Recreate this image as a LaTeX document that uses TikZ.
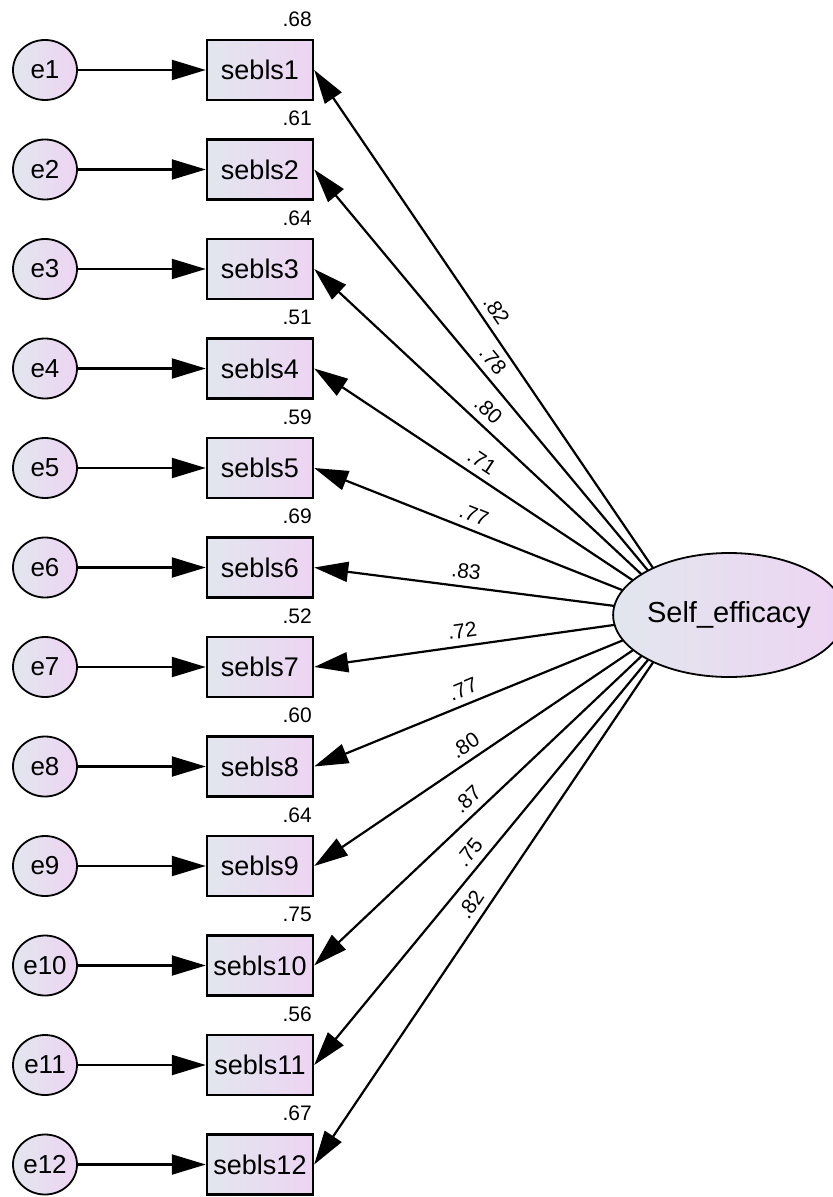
\documentclass[tikz,border=0pt]{standalone}
\usepackage{fontspec}
\setmainfont{Liberation Sans}
\usetikzlibrary{shapes.geometric,arrows.meta,intersections}
\definecolor{Camosgrey}{HTML}{E2E6EE}
\definecolor{Camoslilac}{HTML}{EDD4F2}
\tikzset{
	obsbox/.style={draw,line width=1.2pt,left color=Camosgrey,right color=Camoslilac,minimum width=53pt,minimum height=30pt,inner sep=0pt,font=\fontsize{13.5}{16}\selectfont},
	errnode/.style={draw,ellipse,line width=0.9pt,left color=Camosgrey,right color=Camoslilac,minimum width=32pt,minimum height=30pt,inner sep=0pt,font=\fontsize{13}{15}\selectfont},
	latnode/.style={draw,ellipse,line width=0.9pt,left color=Camosgrey,right color=Camoslilac,minimum width=104pt,minimum height=62pt,inner sep=0pt,font=\fontsize{14.5}{17}\selectfont},
	amosarrow/.style={line width=1.1pt,-{Triangle[length=17pt,width=10pt]}},
	loadlabel/.style={sloped,above,pos=0.5,inner sep=3.5pt,font=\fontsize{10.5}{12}\selectfont},
	rsqlabel/.style={anchor=south east,inner sep=0pt,yshift=6pt,xshift=-1pt,font=\fontsize{10.5}{12}\selectfont}
}
\begin{document}
\begin{tikzpicture}[x=0.5pt,y=-0.5pt]
	\useasboundingbox (0,0) rectangle (832,1197);
	\node[latnode,name path=Fborder] (F) at (729,615) {Self\_efficacy};
	\coordinate (Faim) at (685,615);
	\foreach \i/\r/\l in {1/.68/.82,2/.61/.78,3/.64/.80,4/.51/.71,5/.59/.77,6/.69/.83,7/.52/.72,8/.60/.77,9/.64/.80,10/.75/.87,11/.56/.75,12/.67/.82} {
		\node[obsbox] (b\i) at (260,{70+99.5*(\i-1)}) {sebls\i};
		\node[errnode] (e\i) at (45,{70+99.5*(\i-1)}) {e\i};
		\node[rsqlabel] (r\i) at (b\i.north east) {\r};
		\draw[amosarrow] (e\i) -- (b\i);
		\path[name path=ln\i] (Faim) -- (b\i.east);
		\path[name intersections={of=Fborder and ln\i,by={s\i}}];
		\draw[amosarrow] (s\i) -- node[loadlabel] {\l} (b\i.east);
	}
\end{tikzpicture}
\end{document}
